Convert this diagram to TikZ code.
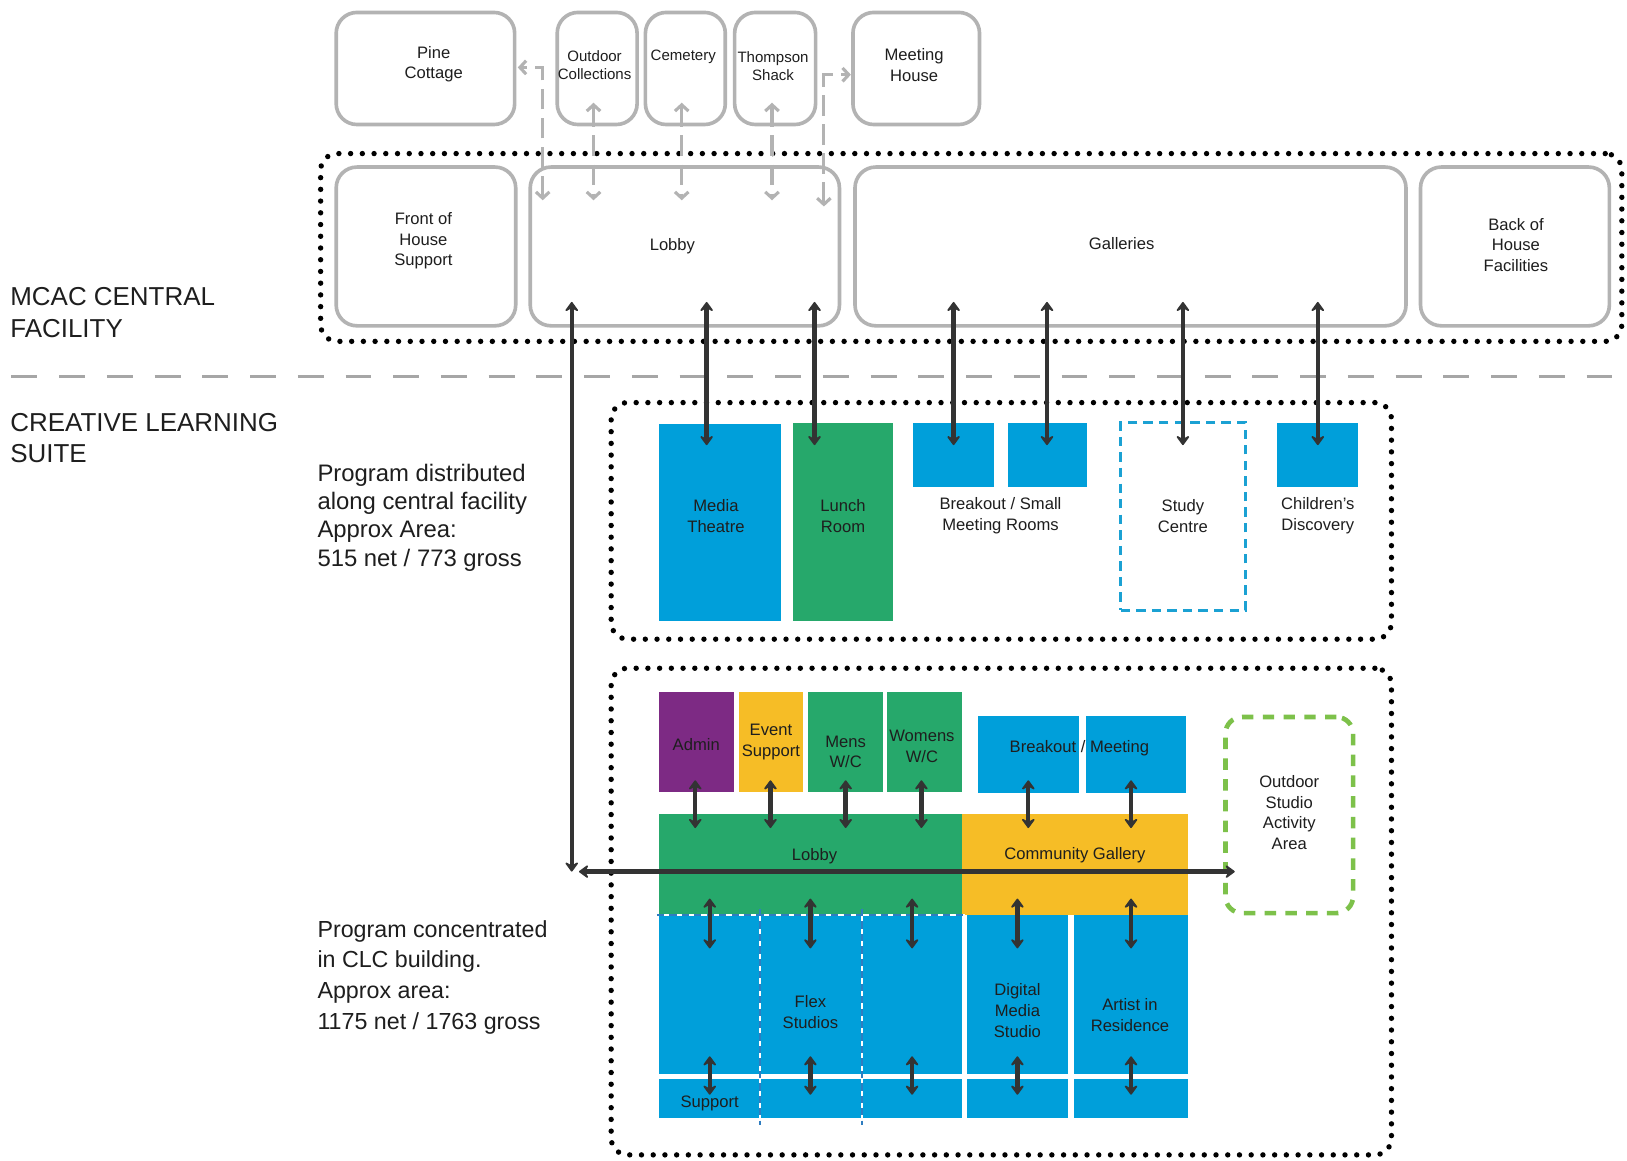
\documentclass[tikz,border=0pt]{standalone}
\usepackage{fontspec}
\setmainfont{Liberation Sans}
\usetikzlibrary{arrows.meta,calc}
\definecolor{cblue}{HTML}{009FDA}
\definecolor{cgreen}{HTML}{26A86B}
\definecolor{cpurple}{HTML}{7D2A84}
\definecolor{cyellow}{HTML}{F6BD26}
\definecolor{cgrey}{HTML}{B3B3B3}
\definecolor{cdark}{HTML}{333333}
\definecolor{csep}{HTML}{A6A6A6}
\definecolor{cstudy}{HTML}{1BA1D3}
\definecolor{coutdoor}{HTML}{7DC14A}
\definecolor{cflex}{HTML}{2F7DC0}
\definecolor{ctext}{HTML}{1E1E1E}
\begin{document}
\begin{tikzpicture}[x=1pt,y=-1pt,
  every node/.style={inner sep=0pt, outer sep=0pt, text=ctext},
  lbl/.style={align=center, font=\fontsize{16}{20}\selectfont},
  slbl/.style={align=center, font=\fontsize{14.5}{17.5}\selectfont},
  gbox/.style={draw=cgrey, line width=3.5pt, rounded corners=20pt, anchor=north west},
  colbox/.style={anchor=north west, fill=#1, draw=none},
  container/.style={draw=black, line width=5.2pt, dash pattern=on 0pt off 11.3pt, line cap=round, rounded corners=16pt, anchor=north west},
  barr/.style={draw=cdark, line width=4.2pt, {Stealth[length=11pt,width=16pt,inset=4.5pt,round]}-{Stealth[length=11pt,width=16pt,inset=4.5pt,round]}},
  garr/.style={draw=cgrey, line width=3pt, dash pattern=on 20pt off 8pt, {Straight Barb[length=6pt,width=13pt]}-{Straight Barb[length=6pt,width=13pt]}},
  big/.style={anchor=north west, align=left, font=\fontsize{25}{30.5}\selectfont},
  prog/.style={anchor=north west, align=left},
]
\useasboundingbox (0,0) rectangle (1568,1118);
\fill[white] (0,0) rectangle (1568,1118);

% containers
\node[container, minimum width=1254, minimum height=181] (topc) at (309,148) {};
\node[container, minimum width=752, minimum height=228] (midc) at (589,388) {};
\node[container, minimum width=752, minimum height=469] (botc) at (589,644) {};

% separator
\draw[csep, line width=2.5pt, dash pattern=on 25pt off 21pt] (11,363) -- (1568,363);

% left texts
\node[big] (mcac) at (10,277) {MCAC CENTRAL\\FACILITY};
\node[big] (cls) at (10,398) {CREATIVE LEARNING\\SUITE};
\node[prog, font=\fontsize{23}{27.3}\selectfont] (pdist) at (306,447) {Program distributed\\along central facility\\Approx Area:\\515 net / 773 gross};
\node[prog, font=\fontsize{22.4}{29.6}\selectfont] (pconc) at (306,887) {Program concentrated\\in CLC building.\\Approx area:\\1175 net / 1763 gross};

% top grey boxes
\node[gbox, minimum width=172, minimum height=108] (pc) at (324,12) {};
\node[gbox, minimum width=77, minimum height=108] (oc) at (537,12) {};
\node[gbox, minimum width=77, minimum height=108] (cem) at (622,12) {};
\node[gbox, minimum width=78, minimum height=108] (ts) at (708,12) {};
\node[gbox, minimum width=122, minimum height=108] (mh) at (822,12) {};
\node[gbox, minimum width=173, minimum height=153] (foh) at (324,161) {};
\node[gbox, minimum width=298, minimum height=153] (lob) at (511,161) {};
\node[gbox, minimum width=531, minimum height=153] (gal) at (824,161) {};
\node[gbox, minimum width=182, minimum height=153] (boh) at (1369,161) {};

% middle section boxes
\node[colbox=cblue, minimum width=118, minimum height=189] (mt) at (635,409) {};
\node[colbox=cgreen, minimum width=97, minimum height=190] (lr) at (764,408) {};
\node[colbox=cblue, minimum width=78, minimum height=61] (bk1) at (880,408) {};
\node[colbox=cblue, minimum width=77, minimum height=61] (bk2) at (971,408) {};
\node[draw=cstudy, line width=2.8pt, dash pattern=on 9pt off 6pt, anchor=north west, minimum width=120, minimum height=181] (sc) at (1080,407) {};
\node[colbox=cblue, minimum width=78, minimum height=61] (cd) at (1231,408) {};

% bottom section boxes
\node[colbox=cpurple, minimum width=72, minimum height=96] (ad) at (635,667) {};
\node[colbox=cyellow, minimum width=62, minimum height=96] (ev) at (712,667) {};
\node[colbox=cgreen, minimum width=72, minimum height=96] (mw) at (779,667) {};
\node[colbox=cgreen, minimum width=72, minimum height=96] (ww) at (855,667) {};
\node[colbox=cblue, minimum width=97, minimum height=74] (bm1) at (943,690) {};
\node[colbox=cblue, minimum width=96, minimum height=74] (bm2) at (1047,690) {};
\node[colbox=cgreen, minimum width=292, minimum height=98] (lb2) at (635,784) {};
\node[colbox=cyellow, minimum width=218, minimum height=98] (cg) at (927,784) {};
\node[colbox=cblue, minimum width=292, minimum height=153] (fx) at (635,882) {};
\node[colbox=cblue, minimum width=97, minimum height=153] (dms) at (932,882) {};
\node[colbox=cblue, minimum width=110, minimum height=153] (air) at (1035,882) {};
\node[colbox=cblue, minimum width=292, minimum height=37] (sup1) at (635,1040) {};
\node[colbox=cblue, minimum width=97, minimum height=37] (sup2) at (932,1040) {};
\node[colbox=cblue, minimum width=110, minimum height=37] (sup3) at (1035,1040) {};
\node[draw=coutdoor, line width=4.5pt, dash pattern=on 11pt off 9pt, rounded corners=16pt, anchor=north west, minimum width=123, minimum height=189] (osa) at (1181,691) {};

% flex studio dashed divisions
\draw[white, line width=2.2pt] ($(fx.north west)+(-2,0)$) -- ($(fx.north east)+(3,0)$);
\draw[cflex, line width=2.2pt, dash pattern=on 7pt off 5pt] ($(fx.north west)+(-2,0)$) -- ($(fx.north east)+(3,0)$);
\draw[white, line width=2pt] ($(fx.north west)+(97.5,-6)$) -- ($(fx.north west)+(97.5,195)$);
\draw[cflex, line width=2pt, dash pattern=on 7pt off 5pt] ($(fx.north west)+(97.5,-6)$) -- ($(fx.north west)+(97.5,202)$);
\draw[white, line width=2pt] ($(fx.north west)+(195.5,-6)$) -- ($(fx.north west)+(195.5,195)$);
\draw[cflex, line width=2pt, dash pattern=on 7pt off 5pt] ($(fx.north west)+(195.5,-6)$) -- ($(fx.north west)+(195.5,202)$);

% labels top
\node[lbl] (pct) at ($(pc.center)+(8,-4)$) {Pine\\Cottage};
\node[slbl] (oct) at ($(oc.center)+(-2.5,-3.5)$) {Outdoor\\Collections};
\node[slbl] (cemt) at ($(cem.center)+(-2,-11.5)$) {Cemetery};
\node[slbl] (tst) at ($(ts.center)+(-2,-2.5)$) {Thompson\\Shack};
\node[lbl] (mht) at ($(mh.center)+(-2,-3)$) {Meeting\\House};
\node[lbl] (foht) at ($(foh.center)+(-2.5,-5.5)$) {Front of\\House\\Support};
\node[lbl] (lobt) at ($(lob.center)+(-12,0)$) {Lobby};
\node[lbl] (galt) at ($(gal.center)+(-8.5,-2.5)$) {Galleries};
\node[lbl] (boht) at ($(boh.center)+(1,-1.5)$) {Back of\\House\\Facilities};

% labels middle
\node[lbl] (mtt) at ($(mt.center)+(-4,-6.5)$) {Media\\Theatre};
\node[lbl] (lrt) at ($(lr.center)+(0,-6)$) {Lunch\\Room};
\node[lbl] (bkt) at ($(bk1.south)!0.5!(bk2.south)+(0,28)$) {Breakout / Small\\Meeting Rooms};
\node[lbl] (sct) at (sc.center) {Study\\Centre};
\node[lbl] (cdt) at ($(cd.south)+(0,28)$) {Children’s\\Discovery};

% labels bottom
\node[lbl] (adt) at ($(ad.center)+(0,3)$) {Admin};
\node[lbl] (evt) at (ev.center) {Event\\Support};
\node[lbl] (mwt) at ($(mw.center)+(0,9.5)$) {Mens\\W/C};
\node[lbl] (wwt) at ($(ww.center)+(-2.5,4.5)$) {Womens\\W/C};
\node[lbl] (bmt) at ($(bm1.center)!0.5!(bm2.center)+(-3,-6)$) {Breakout / Meeting};
\node[lbl] (lb2t) at ($(lb2.center)+(4,-8)$) {Lobby};
\node[lbl] (cgt) at ($(cg.center)+(0,-9)$) {Community Gallery};
\node[lbl] (fxt) at ($(fx.center)+(0,17)$) {Flex\\Studios};
\node[lbl] (dmst) at ($(dms.center)+(0,15.5)$) {Digital\\Media\\Studio};
\node[lbl] (airt) at ($(air.center)+(-1,19.5)$) {Artist in\\Residence};
\node[lbl] (supt) at ($(sup1.west)+(49,4.5)$) {Support};
\node[lbl] (osat) at ($(osa.center)+(0,-2.5)$) {Outdoor\\Studio\\Activity\\Area};

% grey connectors
\draw[garr] ($(oc.south west)+(35,-21)$) -- ($(lob.north west)+(61,32)$);
\draw[garr] ($(cem.south west)+(35,-21)$) -- ($(lob.north west)+(146,32)$);
\draw[garr] ($(ts.south west)+(36,-21)$) -- ($(lob.north west)+(233,32)$);
\draw[garr] ($(lob.north west)+(12,32)$) |- ($(pc.east)+(3,-1)$);
\draw[garr] ($(lob.north east)+(-15,38)$) |- ($(mh.west)+(-2,6)$);

% black connectors top to middle
\draw[barr] ($(lob.south west)+(170,-23)$) -- ($(mt.north west)+(46,20)$);
\draw[barr] ($(lob.south west)+(274,-23)$) -- ($(lr.north west)+(21,21)$);
\draw[barr] ($(gal.south west)+(95,-23)$) -- ($(bk1.north west)+(39,21)$);
\draw[barr] ($(gal.south west)+(185,-23)$) -- ($(bk2.north west)+(38,21)$);
\draw[barr] ($(gal.south west)+(316,-23)$) -- ($(sc.north west)+(60,22)$);
\draw[barr] ($(gal.south west)+(446,-23)$) -- ($(cd.north west)+(39,21)$);

% long connectors
\draw[barr] ($(lob.south west)+(40,-23)$) -- ($(lob.south west |- lb2.west)+(40,7)$);
\draw[barr] ($(lb2.west)+(-77,7)$) -- ($(osa.west |- lb2.west)+(9,7)$);

% bottom: upper row to lobby / gallery
\draw[barr] ($(ad.south west)+(35,-11)$) -- ($(lb2.north west)+(35,14)$);
\draw[barr] ($(ev.south west)+(30.5,-11)$) -- ($(lb2.north west)+(107.5,14)$);
\draw[barr] ($(mw.south west)+(36,-11)$) -- ($(lb2.north west)+(180,14)$);
\draw[barr] ($(ww.south west)+(33,-11)$) -- ($(lb2.north west)+(253,14)$);
\draw[barr] ($(bm1.south west)+(48,-12)$) -- ($(cg.north west)+(64,14)$);
\draw[barr] ($(bm2.south west)+(43,-12)$) -- ($(cg.north west)+(163,14)$);

% lobby / gallery to studios
\draw[barr] ($(lb2.south west)+(49,-16)$) -- ($(fx.north west)+(49,32)$);
\draw[barr] ($(lb2.south west)+(146,-16)$) -- ($(fx.north west)+(146,32)$);
\draw[barr] ($(lb2.south west)+(244,-16)$) -- ($(fx.north west)+(244,32)$);
\draw[barr] ($(cg.south west)+(53.5,-16)$) -- ($(dms.north west)+(48.5,32)$);
\draw[barr] ($(cg.south west)+(163,-16)$) -- ($(air.north west)+(55,32)$);

% studios to support
\draw[barr] ($(fx.south west)+(49,-17)$) -- ($(sup1.north west)+(49,15)$);
\draw[barr] ($(fx.south west)+(146,-17)$) -- ($(sup1.north west)+(146,15)$);
\draw[barr] ($(fx.south west)+(244,-17)$) -- ($(sup1.north west)+(244,15)$);
\draw[barr] ($(dms.south west)+(48.5,-17)$) -- ($(sup2.north west)+(48.5,15)$);
\draw[barr] ($(air.south west)+(55,-17)$) -- ($(sup3.north west)+(55,15)$);
\end{tikzpicture}
\end{document}
